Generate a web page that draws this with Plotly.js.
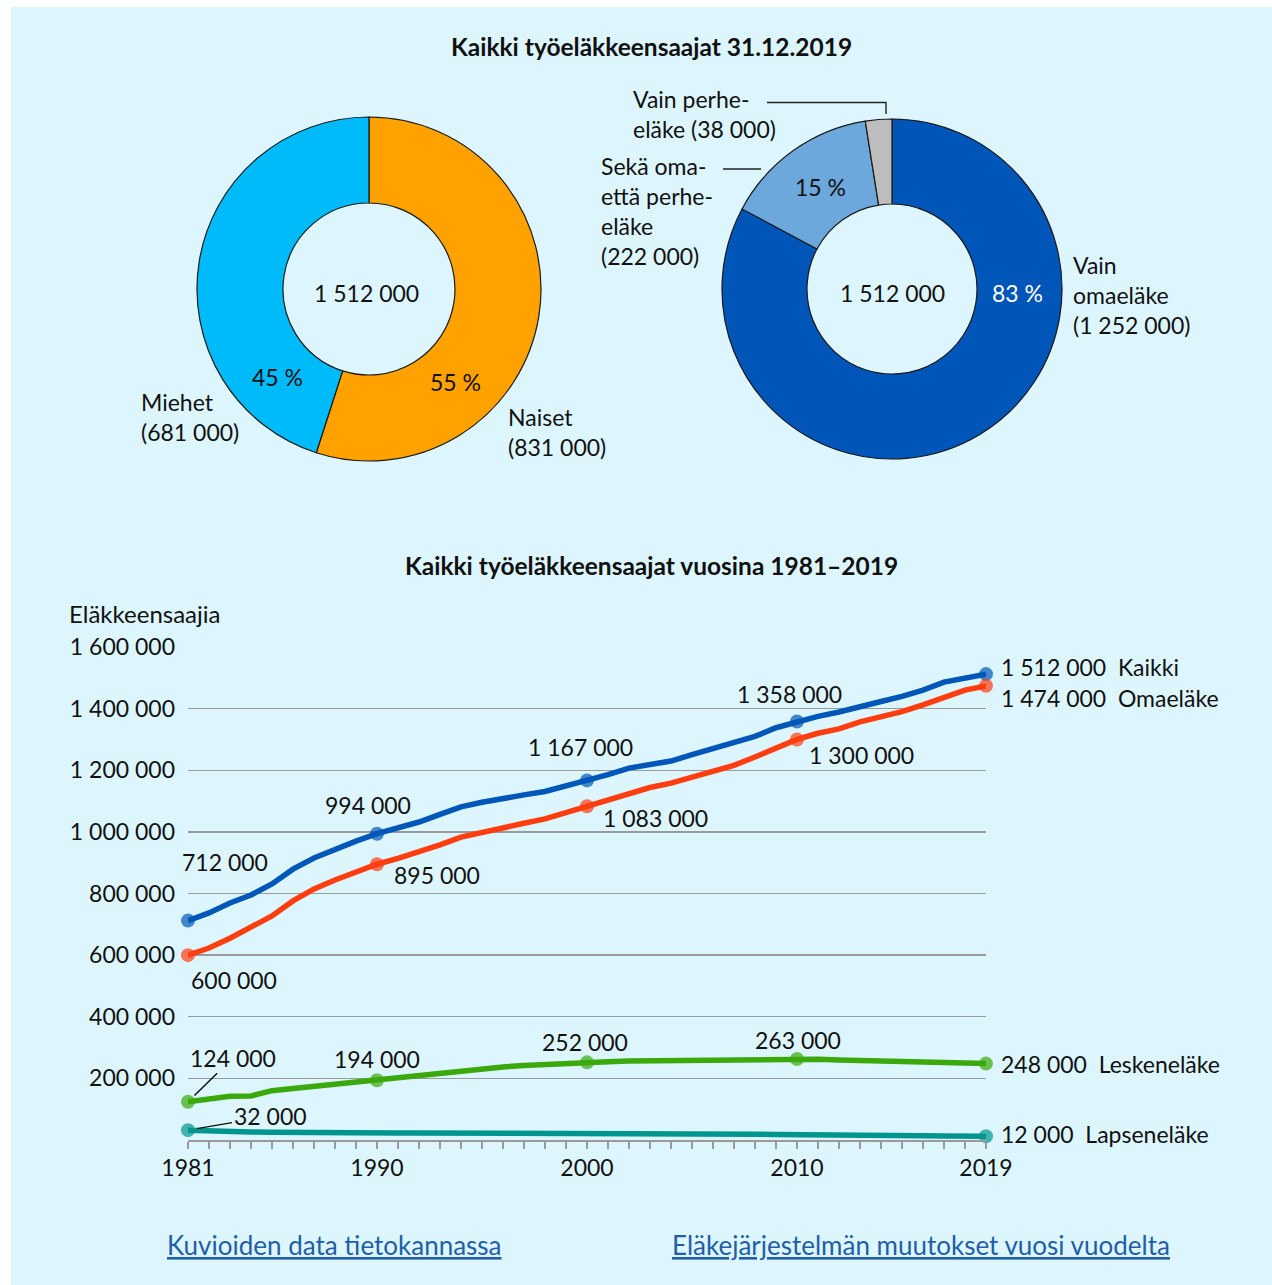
<!DOCTYPE html>
<html><head><meta charset="utf-8">
<script src="https://cdn.plot.ly/plotly-3.0.1.min.js"></script>
<style>html,body{margin:0;padding:0;background:#fff}#chart{width:1272px;height:1285px}</style>
</head><body><div id="chart"></div>
<script>
const W = 1272, H = 1285;

// ---- data: pies ----
const genderLabels = ['Naiset', 'Miehet'];
const genderValues = [831000, 681000];
const typeLabels = ['Vain omaeläke', 'Sekä oma- että perhe-eläke', 'Vain perhe-eläke'];
const typeValues = [1252000, 222000, 38000];
const totalRecipients = 1512000;

// ---- data: lines ----
const years = [1981,1982,1983,1984,1985,1986,1987,1988,1989,1990,1991,1992,1993,1994,1995,1996,1997,1998,1999,2000,2001,2002,2003,2004,2005,2006,2007,2008,2009,2010,2011,2012,2013,2014,2015,2016,2017,2018,2019];
const kaikki = [712000,737000,769000,795000,831000,879000,915000,944000,970000,994000,1012000,1032000,1057000,1081000,1096000,1110000,1120000,1131000,1148000,1167000,1186000,1207000,1220000,1230000,1251000,1272000,1289000,1310000,1338000,1358000,1375000,1389000,1408000,1423000,1440000,1460000,1486000,1500000,1512000];
const omaelake = [600000,623000,655000,691000,727000,776000,815000,844000,870000,895000,914000,935000,958000,983000,999000,1016000,1028000,1042000,1062000,1083000,1104000,1126000,1144000,1158000,1176000,1194000,1216000,1243000,1272000,1300000,1320000,1334000,1357000,1372000,1390000,1412000,1438000,1460000,1474000];
const leskenelake = [124000,133000,142000,143000,160000,167000,174000,180000,187000,194000,204000,212000,219000,224000,229000,237000,242000,246000,249000,252000,254000,256000,257000,258000,259000,260000,261000,262000,262000,263000,262000,260000,259000,258000,256000,254000,252000,250000,248000];
const lapsenelake = [32000,29000,27000,26000,25000,24000,24000,23000,23000,23000,23000,23000,23000,23000,23000,23000,23000,22000,22000,22000,22000,22000,21000,21000,20000,20000,19000,19000,18000,18000,17000,17000,16000,16000,15000,14000,13000,13000,12000];
const seriesNames = ['Kaikki', 'Omaeläke', 'Leskeneläke', 'Lapseneläke'];
const markedYears = [[1981,1990,2000,2010,2019],[1981,1990,2000,2010,2019],[1981,1990,2000,2010,2019],[1981,2019]];
const labelledYears = [[1981,1990,2000,2010],[1981,1990,2000,2010],[1990,2000,2010],[]];
const xLabelYears = [1981, 1990, 2000, 2010, 2019];
const yTickVals = [200000,400000,600000,800000,1000000,1200000,1400000,1600000];

// ---- styles ----
const FONT = 'Lato, "Open Sans", sans-serif';
const TXT = '#111111';
const lineColors = ['#0057B7', '#FF3D0F', '#3BA90C', '#00968F'];
const genderColors = ['#FFA200', '#00BBF9'];
const typeColors = ['#0055B8', '#6CA8DB', '#BDBDBD'];
// label offsets (px) per series, per labelled year
const labelShift = [
  [[37,59],[-9,29],[-7,33],[-8,28]],
  [[46,-25],[60,-11],[68,-12],[64,-16]],
  [[0,21],[-2,20],[1,19]],
  []
];
const endShift = [7, -12, 0, 2];

function fmt(v) { return String(Math.round(v)).replace(/\B(?=(\d{3})+(?!\d))/g, ' '); }
function pct(v, t) { return Math.round(v / t * 100) + ' %'; }
function px(x) { return x / W; }
function py(y) { return 1 - y / H; }
function pAnn(x, y, text, opt) {
  return Object.assign({xref:'paper', yref:'paper', x:px(x), y:py(y), text:text, showarrow:false,
    xanchor:'center', yanchor:'middle',
    font:{family:FONT, size:23, color:TXT}}, opt || {});
}

const seriesData = [kaikki, omaelake, leskenelake, lapsenelake];

const traces = [];
traces.push({
  type:'pie', labels:genderLabels, values:genderValues, sort:false, direction:'clockwise', rotation:0,
  hole:0.5, textinfo:'none', hoverinfo:'skip', showlegend:false,
  marker:{colors:genderColors, line:{color:'#1a1a1a', width:1.2}},
  domain:{x:[px(197), px(541)], y:[py(461), py(117)]}
});
traces.push({
  type:'pie', labels:typeLabels, values:typeValues, sort:false, direction:'clockwise', rotation:0,
  hole:0.5, textinfo:'none', hoverinfo:'skip', showlegend:false,
  marker:{colors:typeColors, line:{color:'#1a1a1a', width:1.2}},
  domain:{x:[px(722), px(1062)], y:[py(459), py(119)]}
});

seriesData.forEach((vals, i) => {
  traces.push({
    type:'scatter', mode:'lines+markers', x:years, y:vals, name:seriesNames[i],
    line:{color:lineColors[i], width:5.5, shape:'linear'},
    marker:{color:lineColors[i], size:years.map(y => markedYears[i].includes(y) ? 14 : 0), line:{width:0}},
    cliponaxis:false, hoverinfo:'skip', showlegend:false, xaxis:'x', yaxis:'y'
  });
});

const ann = [];
// titles
ann.push(pAnn(651, 47, '<b>Kaikki työeläkkeensaajat 31.12.2019</b>', {font:{family:FONT, size:24.5, color:TXT}}));
ann.push(pAnn(651, 565, '<b>Kaikki työeläkkeensaajat vuosina 1981–2019</b>', {font:{family:FONT, size:24.5, color:TXT}}));
ann.push(pAnn(67, 613, 'Eläkkeensaajia', {xanchor:'left', font:{family:FONT, size:24, color:TXT}}));

// pie 1 texts
ann.push(pAnn(366, 293, fmt(totalRecipients)));
ann.push(pAnn(455, 382, pct(genderValues[0], totalRecipients)));
ann.push(pAnn(277, 377, pct(genderValues[1], totalRecipients)));
ann.push(pAnn(506, 432, genderLabels[0] + '<br>(' + fmt(genderValues[0]) + ')', {xanchor:'left', align:'left'}));
ann.push(pAnn(139, 417, 'Miehet<br>(' + fmt(genderValues[1]) + ')', {xanchor:'left', align:'left'}));

// pie 2 texts
ann.push(pAnn(892, 293, fmt(totalRecipients)));
ann.push(pAnn(1017, 293, pct(typeValues[0], totalRecipients), {font:{family:FONT, size:23, color:'#ffffff'}}));
ann.push(pAnn(820, 187, pct(typeValues[1], totalRecipients)));
ann.push(pAnn(1071, 295, 'Vain<br>omaeläke<br>(' + fmt(typeValues[0]) + ')', {xanchor:'left', align:'left'}));
ann.push(pAnn(599, 211, 'Sekä oma-<br>että perhe-<br>eläke<br>(' + fmt(typeValues[1]) + ')', {xanchor:'left', align:'left'}));
ann.push(pAnn(631, 114, 'Vain perhe-<br>eläke (' + fmt(typeValues[2]) + ')', {xanchor:'left', align:'left'}));

// line labels
seriesData.forEach((vals, i) => {
  labelledYears[i].forEach((yr, k) => {
    const v = vals[years.indexOf(yr)];
    ann.push({xref:'x', yref:'y', x:yr, y:v, text:fmt(v), showarrow:false, xanchor:'center', yanchor:'middle',
      xshift:labelShift[i][k][0], yshift:labelShift[i][k][1], font:{family:FONT, size:23, color:TXT}});
  });
  const last = vals[vals.length - 1];
  ann.push({xref:'x', yref:'y', x:years[years.length-1], y:last,
    text:fmt(last) + '\u00A0\u00A0' + seriesNames[i], showarrow:false, xanchor:'left', yanchor:'middle',
    xshift:13, yshift:endShift[i], font:{family:FONT, size:23, color:TXT}});
});
// leader-line labels for first values of small series
ann.push({xref:'x', yref:'y', x:years[0], y:leskenelake[0], text:fmt(leskenelake[0]), showarrow:true,
  arrowhead:0, arrowwidth:1.5, arrowcolor:'#111', ax:45, ay:-44, standoff:9,
  font:{family:FONT, size:23, color:TXT}});
ann.push({xref:'x', yref:'y', x:years[0], y:lapsenelake[0], text:fmt(lapsenelake[0]), showarrow:true,
  arrowhead:0, arrowwidth:1.5, arrowcolor:'#111', ax:82, ay:-14, standoff:9,
  font:{family:FONT, size:23, color:TXT}});

// links
ann.push(pAnn(334, 1245, '<u>Kuvioiden data tietokannassa</u>', {font:{family:FONT, size:26, color:'#1F5EA8'}}));
ann.push(pAnn(921, 1245, '<u>Eläkejärjestelmän muutokset vuosi vuodelta</u>', {font:{family:FONT, size:26, color:'#1F5EA8'}}));

const shapes = [
  {type:'rect', xref:'paper', yref:'paper', x0:px(11), x1:1, y0:0, y1:py(7), fillcolor:'#DDF6FE', line:{width:0}, layer:'below'},
  {type:'line', xref:'paper', yref:'paper', x0:px(723), y0:py(169), x1:px(761), y1:py(169), line:{color:'#222', width:1.4}},
  {type:'path', xref:'paper', yref:'paper', path:'M ' + px(767) + ' ' + py(102.5) + ' L ' + px(886) + ' ' + py(102.5) + ' L ' + px(886) + ' ' + py(114), line:{color:'#222', width:1.4}}
];

const layout = {
  width:W, height:H, margin:{l:0, r:0, t:0, b:0}, paper_bgcolor:'#ffffff', plot_bgcolor:'rgba(0,0,0,0)',
  showlegend:false, font:{family:FONT, size:23, color:TXT},
  xaxis:{domain:[px(188), px(986)], range:[1981, 2019], tickmode:'array', tickvals:years,
    ticktext:years.map(y => xLabelYears.includes(y) ? String(y) : ''), ticks:'outside', ticklen:7,
    tickcolor:'#9a9a9a', tickwidth:1.3, showline:true, linecolor:'#9a9a9a', linewidth:1.6,
    showgrid:false, zeroline:false, automargin:false, tickfont:{family:FONT, size:23, color:TXT}, fixedrange:true},
  yaxis:{domain:[py(1140), py(647)], range:[0, 1600000], tickmode:'array', tickvals:yTickVals,
    ticktext:yTickVals.map(fmt), ticks:'', showgrid:true, gridcolor:'#9a9a9a', gridwidth:1.3,
    zeroline:false, showline:false, automargin:false, ticklabelstandoff:12,
    tickfont:{family:FONT, size:23, color:TXT}, fixedrange:true},
  annotations:ann, shapes:shapes
};

Plotly.newPlot('chart', traces, layout, {staticPlot:true, displayModeBar:false});
</script></body></html>
